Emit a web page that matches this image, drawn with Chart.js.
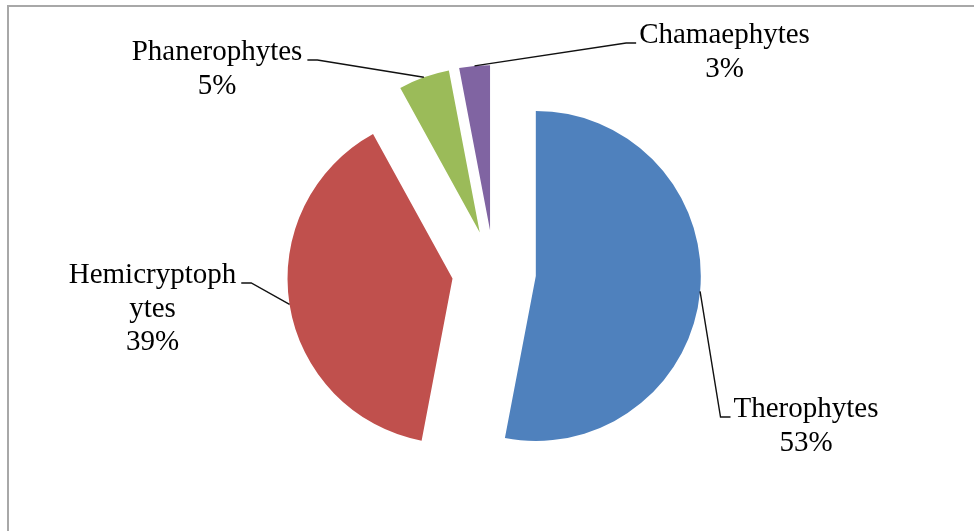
<!DOCTYPE html>
<html>
<head>
<meta charset="utf-8">
<script src="https://cdn.jsdelivr.net/npm/chart.js@4.4.1/dist/chart.umd.min.js"></script>
<style>
  html, body { margin: 0; padding: 0; background: #fff; overflow: hidden; }
  #wrap { position: relative; width: 974px; height: 531px; }
  /* frame around the chart area, runs off the right and bottom edges */
  #frame {
    position: absolute; left: 7px; top: 5px; width: 1000px; height: 600px;
    border: 2px solid #a8a8a8; box-sizing: border-box;
  }
  #chart { position: absolute; left: 0; top: 0; }
</style>
</head>
<body>
<div id="wrap">
  <div id="frame"></div>
  <canvas id="chart" width="974" height="531"></canvas>
</div>
<script>
/* ========= Data ========= */
const categories = ["Therophytes", "Hemicryptophytes", "Phanerophytes", "Chamaephytes"];
const shares = [53, 39, 5, 3];
const sliceColors = ["#4F81BD", "#C0504D", "#9BBB59", "#8064A2"];

/* ========= Layout / style ========= */
const PIE_RADIUS = 165;
const EXPLODE = 42;               // distance each slice is pulled out
const FONT = "29px 'Liberation Serif', 'Times New Roman', serif";
const LINE_H = 33.5;
const WRAP_WIDTH = 178;           // labels wider than this break mid-word
// label anchor (centre x, first baseline y) relative to the pie centre
const labelOffsets = [
  [312, 145],
  [-341.5, 11],
  [-277, -212],
  [230.5, -229]
];

/* ========= Helpers ========= */
function wrapLabel(ctx, text, maxWidth) {
  const lines = [];
  let cur = "";
  for (const ch of text) {
    if (cur && ctx.measureText(cur + ch).width > maxWidth) {
      lines.push(cur);
      cur = ch;
    } else {
      cur += ch;
    }
  }
  lines.push(cur);
  return lines;
}

/* ========= Plugins ========= */
// draw every arc shifted outward along its mid angle
const explodePlugin = {
  id: "explode",
  beforeDatasetDraw(chart, args) {
    const ctx = chart.ctx;
    args.meta.data.forEach(arc => {
      const mid = (arc.startAngle + arc.endAngle) / 2;
      ctx.save();
      ctx.translate(Math.cos(mid) * EXPLODE, Math.sin(mid) * EXPLODE);
      arc.draw(ctx);
      ctx.restore();
    });
    return false;
  }
};

// category + percent labels with leader lines
const labelPlugin = {
  id: "sliceLabels",
  afterDatasetsDraw(chart) {
    const ctx = chart.ctx;
    const meta = chart.getDatasetMeta(0);
    ctx.save();
    ctx.font = FONT;
    ctx.fillStyle = "#000";
    ctx.textAlign = "center";
    ctx.textBaseline = "alphabetic";
    meta.data.forEach((arc, i) => {
      const mid = (arc.startAngle + arc.endAngle) / 2;
      const reach = arc.outerRadius + EXPLODE;
      const sx = arc.x + Math.cos(mid) * reach;
      const sy = arc.y + Math.sin(mid) * reach;

      const cx = arc.x + labelOffsets[i][0];
      const by = arc.y + labelOffsets[i][1];
      const lines = wrapLabel(ctx, categories[i], WRAP_WIDTH);
      lines.push(shares[i] + "%");
      lines.forEach((ln, k) => ctx.fillText(ln, cx, by + k * LINE_H));

      // leader: arc edge -> elbow -> side of the first text line
      const w = ctx.measureText(lines[0]).width;
      let ax, ex;
      if (cx > sx) { ax = cx - w / 2 - 3; ex = ax - 10; }
      else { ax = cx + w / 2 + 5; ex = ax + 10; }
      ctx.beginPath();
      ctx.moveTo(sx, sy);
      ctx.lineTo(ex, by);
      ctx.lineTo(ax, by);
      ctx.strokeStyle = "#111";
      ctx.lineWidth = 1.4;
      ctx.stroke();
    });
    ctx.restore();
  }
};

/* ========= Chart ========= */
new Chart(document.getElementById("chart").getContext("2d"), {
  type: "pie",
  data: {
    labels: categories,
    datasets: [{
      data: shares,
      backgroundColor: sliceColors,
      borderWidth: 0,
      radius: PIE_RADIUS
    }]
  },
  options: {
    responsive: false,
    animation: false,
    layout: { padding: { left: 14, right: 0, top: 13, bottom: 0 } },
    plugins: {
      legend: { display: false },
      tooltip: { enabled: false }
    }
  },
  plugins: [explodePlugin, labelPlugin]
});
</script>
</body>
</html>
